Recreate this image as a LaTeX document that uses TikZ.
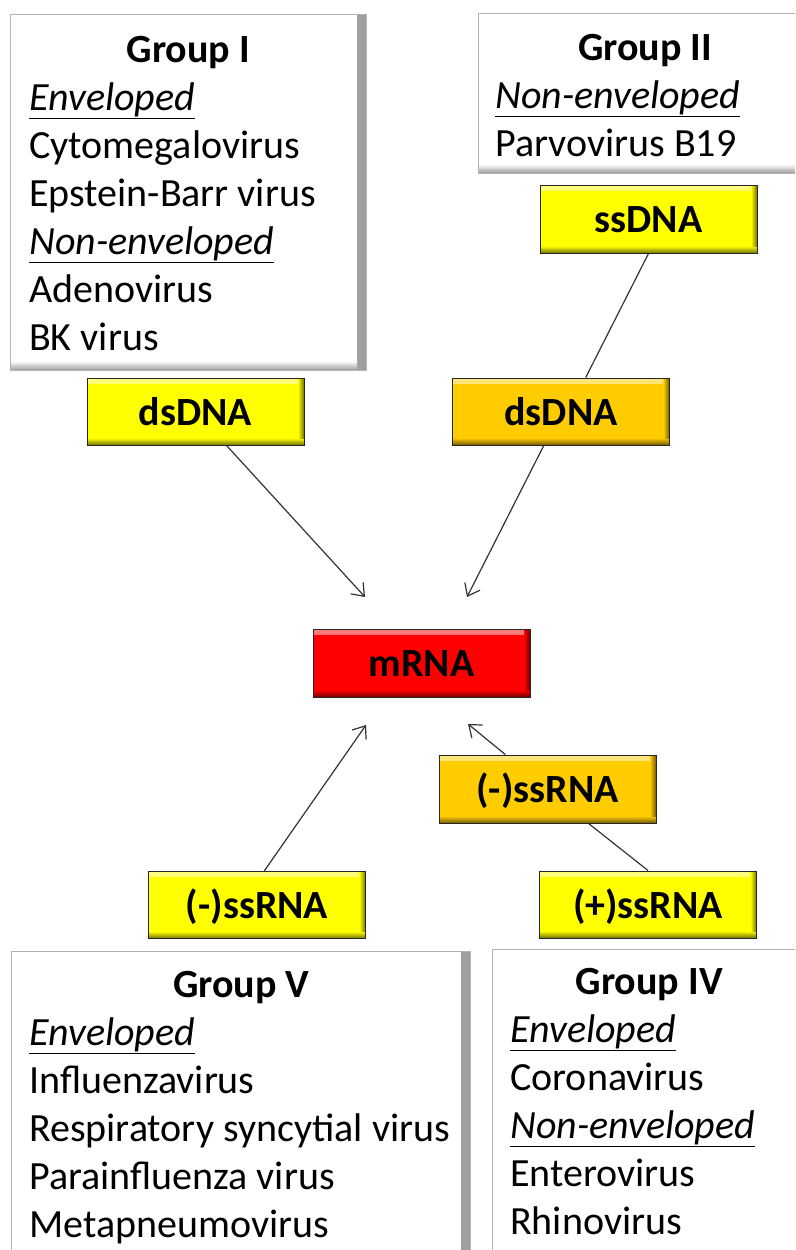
\documentclass[tikz,border=0pt]{standalone}
\usepackage{fontspec}
\setmainfont{Carlito}
\usetikzlibrary{arrows.meta}
\definecolor{tagyellow}{HTML}{FFFF00}
\definecolor{tagorange}{HTML}{FFCC00}
\definecolor{tagred}{HTML}{FF0000}

\begin{document}
\begin{tikzpicture}[x=1pt,y=-1pt,>={Straight Barb[length=11pt,width=17pt]},
	grpbox/.style={rectangle,fill=white,draw=black!30,line width=1pt,inner sep=0pt,
		path picture={
			\shade[left color=white,right color=black!38] ([xshift=-9pt]path picture bounding box.north east) rectangle (path picture bounding box.south east);
			\shade[top color=white,bottom color=black!38] ([yshift=9pt]path picture bounding box.south west) rectangle ([xshift=-9pt]path picture bounding box.south east);
		}},
	grptext/.style={anchor=base west,inner sep=0pt,align=flush left,font=\fontsize{40}{48}\selectfont},
	tag/.style={rectangle,fill=#1,draw=black!85,line width=1pt,minimum width=217pt,minimum height=67pt,inner sep=0pt,
		text height=28pt,text depth=1pt,font=\fontsize{40}{48}\selectfont\bfseries,
		path picture={
			\shade[top color=#1!50!white,bottom color=#1] (path picture bounding box.north west) rectangle ([yshift=-5pt]path picture bounding box.north east);
			\shade[top color=#1,bottom color=#1!45!black] ([yshift=7pt]path picture bounding box.south west) rectangle (path picture bounding box.south east);
			\shade[left color=#1,right color=#1!45!black] ([xshift=-6pt]path picture bounding box.north east) rectangle ([yshift=7pt]path picture bounding box.south east);
		}},
	conn/.style={draw=black!80,line width=1.2pt}]

	\useasboundingbox (0,0) rectangle (795,1250);
	\clip (0,0) rectangle (795,1250);

	% group frames
	\node[grpbox,minimum width=356pt,minimum height=356pt] (grpI) at (188,192) {};
	\node[grpbox,minimum width=334pt,minimum height=160pt] (grpII) at (645,93) {};
	\node[grpbox,minimum width=459pt,minimum height=319pt] (grpV) at (240.5,1110.5) {};
	\node[grpbox,minimum width=320pt,minimum height=321pt] (grpIV) at (652,1109.5) {};

	\node[grptext,text width=318pt] (txtI) at (29,62) {{\centering\bfseries Group I\par}
		\underline{\textit{Enveloped}}\\ Cytomegalovirus\\ Epstein-Barr virus\\
		\underline{\textit{Non-enveloped}}\\ Adenovirus\\ BK virus};
	\node[grptext,text width=300pt] (txtII) at (495,60) {{\centering\bfseries Group II\par}
		\underline{\textit{Non-enveloped}}\\ Parvovirus B19};
	\node[grptext,text width=424pt] (txtV) at (29,997) {{\centering\bfseries Group V\par}
		\underline{\textit{Enveloped}}\\ Influenzavirus\\ \mbox{Respiratory syncytial virus}\\
		Parainfluenza virus\\ Metapneumovirus};
	\node[grptext,text width=278pt] (txtIV) at (510,994) {{\centering\bfseries Group IV\par}
		\underline{\textit{Enveloped}}\\ Coronavirus\\ \underline{\textit{Non-enveloped}}\\
		Enterovirus\\ Rhinovirus};

	% genome tags
	\node[tag=tagyellow] (ds1) at (195.5,411.5) {dsDNA};
	\node[tag=tagyellow,minimum height=68pt] (ss) at (648.5,219) {ssDNA};
	\node[tag=tagorange] (ds2) at (561,411.5) {dsDNA};
	\node[tag=tagred,minimum height=68pt] (mrna) at (421.5,663) {mRNA};
	\node[tag=tagorange,minimum height=68pt] (rneg2) at (547.5,789) {(-)ssRNA};
	\node[tag=tagyellow] (rneg1) at (257,905) {(-)ssRNA};
	\node[tag=tagyellow] (rpos) at (648,904.5) {(+)ssRNA};

	\coordinate (tipA) at (365,597);
	\coordinate (tipB) at (467,597);
	\coordinate (tipC) at (366,725);
	\coordinate (tipD) at (468,724);

	\draw[conn,->] (ds1) -- (tipA);
	\draw[conn,->] (ds2) -- (tipB);
	\draw[conn] (ss.south) -- (ds2.54);
	\draw[conn,->] (rneg1.78) -- (tipC);
	\draw[conn,->] (rneg2) -- (tipD);
	\draw[conn] (rpos.north) -- (rneg2.-40);
\end{tikzpicture}
\end{document}
